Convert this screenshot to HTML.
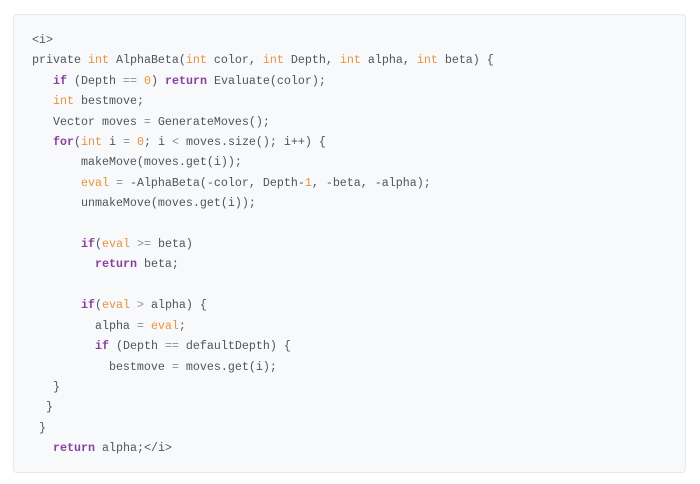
<!DOCTYPE html>
<html><head><meta charset="utf-8"><style>
html,body{margin:0;padding:0;background:#fff;width:700px;height:484px;overflow:hidden}
.box{position:absolute;left:13px;top:14px;width:673px;height:459px;background:#f8f9fb;border:1px solid #e6e8ec;border-radius:4px;box-sizing:border-box}
pre{position:absolute;left:32px;top:30px;margin:0;font-family:"Liberation Mono",monospace;font-size:11.67px;line-height:20.4px;color:#50545c}
.k{color:#8a3fa0;font-weight:bold}
.t{color:#e8933c}
.o{color:#8a8f98}
</style></head><body>
<div class="box"></div>
<pre>&lt;i&gt;
private <span class="t">int</span> AlphaBeta(<span class="t">int</span> color, <span class="t">int</span> Depth, <span class="t">int</span> alpha, <span class="t">int</span> beta) {
   <span class="k">if</span> (Depth <span class="o">==</span> <span class="t">0</span>) <span class="k">return</span> Evaluate(color);
   <span class="t">int</span> bestmove;
   Vector moves <span class="o">=</span> GenerateMoves();
   <span class="k">for</span>(<span class="t">int</span> i <span class="o">=</span> <span class="t">0</span>; i <span class="o">&lt;</span> moves.size(); i++) {
       makeMove(moves.get(i));
       <span class="t">eval</span> <span class="o">=</span> -AlphaBeta(-color, Depth-<span class="t">1</span>, -beta, -alpha);
       unmakeMove(moves.get(i));

       <span class="k">if</span>(<span class="t">eval</span> <span class="o">&gt;=</span> beta)
         <span class="k">return</span> beta;

       <span class="k">if</span>(<span class="t">eval</span> <span class="o">&gt;</span> alpha) {
         alpha <span class="o">=</span> <span class="t">eval</span>;
         <span class="k">if</span> (Depth <span class="o">==</span> defaultDepth) {
           bestmove <span class="o">=</span> moves.get(i);
   }
  }
 }
   <span class="k">return</span> alpha;&lt;/i&gt;</pre>
</body></html>
